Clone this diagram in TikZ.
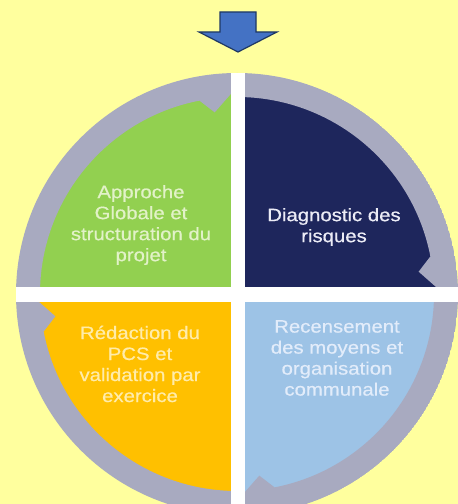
\documentclass[tikz,border=0pt]{standalone}
\usepackage{fontspec}
\setmainfont{Liberation Sans}[FakeStretch=1.13, FakeBold=0.6]
\definecolor{bgyel}{RGB}{255,255,158}
\definecolor{ringc}{RGB}{168,170,192}
\definecolor{qgreen}{RGB}{146,208,80}
\definecolor{qnavy}{RGB}{30,38,92}
\definecolor{qblue}{RGB}{157,195,230}
\definecolor{qorange}{RGB}{255,192,0}
\definecolor{tgreen}{RGB}{226,242,200}
\definecolor{tnavy}{RGB}{236,236,246}
\definecolor{tblue}{RGB}{226,236,250}
\definecolor{torange}{RGB}{255,236,170}
\definecolor{arrfill}{RGB}{68,114,196}
\definecolor{arrline}{RGB}{31,56,100}
\tikzset{
  lbl/.style={align=center, inner sep=0pt, font=\fontsize{18}{21}\selectfont},
}
\begin{document}
\begin{tikzpicture}[x=1pt,y=1pt]
\fill[bgyel] (0,0) rectangle (458,504);
\useasboundingbox (0,0) rectangle (458,504);
% down arrow
\draw[fill=arrfill, draw=arrline, line width=1.2pt, line join=miter]
  (220,492) -- (256,492) -- (256,472) -- (277,472) -- (238,452) -- (199,472) -- (220,472) -- cycle;
\begin{scope}[shift={(237,210)}]
  \clip (0,0) circle (221);
  % quadrants
  \fill[qgreen]  (0,0) -- (180:200) arc[start angle=180, end angle=90, radius=200] -- cycle;
  \fill[qnavy]   (0,0) -- (90:200) arc[start angle=90, end angle=0, radius=200] -- cycle;
  \fill[qblue]   (0,0) -- (0:200) arc[start angle=0, end angle=-90, radius=200] -- cycle;
  \fill[qorange] (0,0) -- (-90:200) arc[start angle=-90, end angle=-180, radius=200] -- cycle;
  % ring arrows
  \foreach \s in {180,90,0,-90}{
    \fill[ringc] (\s:221) arc[start angle=\s, end angle={\s-90}, radius=221]
      -- ({\s-90}:207) -- ({\s-83}:183) -- ({\s-79}:197)
      arc[start angle={\s-79}, end angle=\s, radius=197] -- cycle;
  }
  % white cross
  \fill[white] (-6,-230) rectangle (8,230);
  \fill[white] (-230,-8) rectangle (230,7);
\end{scope}
\node[lbl, text=tgreen]  (q1) at (141,279) {Approche\\Globale et\\structuration du\\projet};
\node[lbl, text=tnavy]   (q2) at (334,277) {Diagnostic des\\risques};
\node[lbl, text=tblue]   (q3) at (337,146) {Recensement\\des moyens et\\organisation\\communale};
\node[lbl, text=torange] (q4) at (140,140) {Rédaction du\\PCS et\\validation par\\exercice};
\end{tikzpicture}
\end{document}
